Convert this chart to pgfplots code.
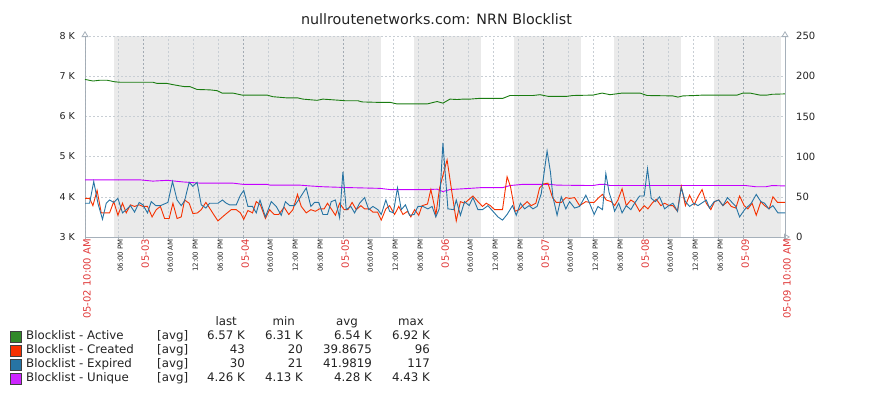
\documentclass[border=0pt]{standalone}
\usepackage{pgfplots}
\pgfplotsset{compat=1.18}
\usepackage{fontspec}
\setmainfont{DejaVu Sans}
\usetikzlibrary{arrows.meta}

\definecolor{activec}{HTML}{1A7C11}
\definecolor{createdc}{HTML}{F63100}
\definecolor{expiredc}{HTML}{2774A4}
\definecolor{uniquec}{HTML}{C400FF}
\definecolor{bandc}{HTML}{EAEAEA}
\definecolor{gridc}{HTML}{C8CED4}
\definecolor{gridd}{HTML}{A3ABB3}
\definecolor{axisc}{HTML}{A6B0BA}
\definecolor{redlab}{HTML}{E03A3A}
\definecolor{txt}{HTML}{222222}

\begin{document}
\begin{tikzpicture}
\path[use as bounding box] (0pt,0pt) rectangle (871pt,397pt);

% background bands (non-working time)
\begin{axis}[
  at={(85pt,160pt)}, anchor=south west, scale only axis,
  width=700pt, height=201pt,
  xmin=0, xmax=168, ymin=3000, ymax=8000,
  hide axis, clip=true]
\addplot[fill=bandc, draw=none] coordinates {(7,3000) (7,8000) (71,8000) (71,3000)} -- cycle;
\addplot[fill=bandc, draw=none] coordinates {(79,3000) (79,8000) (95,8000) (95,3000)} -- cycle;
\addplot[fill=bandc, draw=none] coordinates {(103,3000) (103,8000) (119,8000) (119,3000)} -- cycle;
\addplot[fill=bandc, draw=none] coordinates {(127,3000) (127,8000) (143,8000) (143,3000)} -- cycle;
\addplot[fill=bandc, draw=none] coordinates {(151,3000) (151,8000) (167,8000) (167,3000)} -- cycle;
\end{axis}

% left axis: Active, Unique
\begin{axis}[
  at={(85pt,160pt)}, anchor=south west, scale only axis,
  width=700pt, height=201pt,
  xmin=0, xmax=168, ymin=3000, ymax=8000,
  axis x line=bottom, axis y line=left,
  x axis line style={draw=axisc, line width=0.8pt, shorten >=-5pt, -{Triangle[open,length=6pt,width=7pt]}},
  y axis line style={draw=axisc, line width=0.8pt, shorten >=-5pt, -{Triangle[open,length=6pt,width=7pt]}},
  ytick={3000,4000,5000,6000,7000,8000},
  yticklabels={3 K,4 K,5 K,6 K,7 K,8 K},
  ytick style={draw=none},
  yticklabel style={font=\fontsize{9.5}{11}\selectfont, text=txt, anchor=east, inner sep=0pt, xshift=-8pt},
  xtick={8,20,26,32,44,50,56,68,74,80,92,98,104,116,122,128,140,146,152},
  xticklabels={06:00 PM,06:00 AM,12:00 PM,06:00 PM,06:00 AM,12:00 PM,06:00 PM,06:00 AM,12:00 PM,06:00 PM,06:00 AM,12:00 PM,06:00 PM,06:00 AM,12:00 PM,06:00 PM,06:00 AM,12:00 PM,06:00 PM},
  xtick style={draw=axisc, line width=0.6pt},
  tick align=outside, major tick length=2pt,
  xticklabel style={font=\fontsize{7}{8}\selectfont, text=txt, rotate=90, anchor=east, inner sep=0pt, yshift=-2pt},
  extra x ticks={0,14,38,62,86,110,134,158,168},
  extra x tick labels={05-02 10:00 AM,05-03,05-04,05-05,05-06,05-07,05-08,05-09,05-09 10:00 AM},
  extra x tick style={major grid style={gridd, dash pattern=on 2pt off 2pt, line width=0.6pt},
    xticklabel style={font=\fontsize{10}{12}\selectfont, text=redlab}},
  xmajorgrids, ymajorgrids,
  major grid style={gridc, dash pattern=on 2pt off 2pt, line width=0.6pt},
  clip=false]
\addplot[activec, line width=0.9pt] table {
0 6.92e3
1.9 6.88e3
3.6 6.90e3
5.3 6.90e3
7.2 6.86e3
8.4 6.85e3
16.3 6.85e3
17.3 6.82e3
19.7 6.82e3
21.1 6.79e3
23.3 6.75e3
24.0 6.74e3
25.2 6.74e3
26.9 6.67e3
30.0 6.66e3
31.7 6.64e3
32.9 6.58e3
35.5 6.58e3
37.7 6.53e3
43.7 6.53e3
45.1 6.49e3
48.5 6.46e3
51.1 6.46e3
52.3 6.43e3
55.7 6.40e3
57.1 6.43e3
61.2 6.40e3
62.4 6.39e3
65.5 6.39e3
66.5 6.36e3
70.1 6.35e3
73.2 6.35e3
74.9 6.31e3
82.1 6.31e3
84.5 6.37e3
85.9 6.33e3
87.6 6.43e3
89.3 6.42e3
90.7 6.43e3
92.4 6.43e3
94.8 6.45e3
100.3 6.45e3
102.0 6.52e3
107.5 6.52e3
109.2 6.54e3
111.1 6.50e3
115.7 6.50e3
117.1 6.52e3
121.9 6.53e3
124.1 6.58e3
126.0 6.54e3
128.9 6.58e3
133.2 6.58e3
134.9 6.52e3
141.1 6.51e3
142.3 6.48e3
143.5 6.51e3
146.4 6.52e3
148.3 6.53e3
156.5 6.53e3
157.9 6.58e3
159.6 6.58e3
162.0 6.53e3
163.7 6.53e3
164.9 6.55e3
168 6.56e3
};
\addplot[uniquec, line width=0.9pt] table {
0 4.42e3
13.4 4.42e3
16.3 4.39e3
19.7 4.41e3
23.5 4.37e3
27.6 4.34e3
35.5 4.34e3
37.9 4.31e3
43.7 4.31e3
44.4 4.29e3
51.6 4.29e3
54.0 4.27e3
57.1 4.25e3
62.9 4.23e3
70.8 4.21e3
73.2 4.18e3
82.3 4.18e3
84.5 4.19e3
85.9 4.13e3
87.6 4.18e3
92.4 4.21e3
95.3 4.23e3
100.3 4.23e3
102.0 4.28e3
105.1 4.31e3
111.6 4.31e3
113.3 4.29e3
121.9 4.28e3
123.6 4.31e3
124.8 4.31e3
126.0 4.28e3
158.6 4.28e3
161.0 4.25e3
163.4 4.25e3
164.9 4.28e3
168 4.27e3
};
\end{axis}

% right axis: Created, Expired
\begin{axis}[
  at={(85pt,160pt)}, anchor=south west, scale only axis,
  width=700pt, height=201pt,
  xmin=0, xmax=168, ymin=0, ymax=250,
  axis x line=none, axis y line*=right,
  y axis line style={draw=axisc, line width=0.8pt, shorten >=-5pt, -{Triangle[open,length=6pt,width=7pt]}},
  ytick={0,50,100,150,200,250},
  yticklabels={0,50,100,150,200,250},
  ytick style={draw=none},
  yticklabel style={font=\fontsize{10}{12}\selectfont, text=txt, anchor=west, inner sep=0pt, xshift=11pt},
  clip=true]
\addplot[createdc, line width=0.9pt] table {
0 48
1.1 48
1.9 39
2.9 58
3.9 30
5.0 30
5.9 30
6.9 44
7.9 27
9.0 42
9.9 30
10.9 40
11.9 38
13.0 40
13.9 38
15.0 38
16.1 25
17.1 34
18.1 38
19.1 23
20.2 23
21.1 42
22.1 23
23.1 25
23.9 46
25.0 42
25.9 29
27.0 30
27.9 34
29.0 43
29.9 36
31.0 27
31.9 20
33.0 25
33.9 29
35.1 34
36.3 34
37.3 30
38.1 22
39.1 33
40.2 30
41.1 44
42.1 40
43.3 23
44.3 34
45.4 28
46.5 28
47.8 37
48.9 28
49.9 34
51.0 53
51.9 38
53.1 30
54.2 34
55.3 32
56.3 35
57.4 35
58.2 42
59.1 35
60.1 27
61.1 42
62.2 34
63.1 34
64.1 43
65.1 34
66.2 39
67.1 35
68.2 35
69.1 31
70.2 31
71.1 21
72.2 35
73.1 39
74.3 28
75.3 38
76.3 28
77.4 32
78.2 25
79.1 34
80.1 27
80.9 39
82.2 41
83.0 59
83.8 40
84.2 27
85.1 61
86.9 96
88.1 54
89.1 20
90.1 44
91.1 42
93.1 51
94.3 44
95.4 38
96.3 42
97.3 39
98.3 34
100.2 34
101.3 75
102.1 63
103.2 32
104.2 34
105.1 39
106.1 44
107.1 39
108.2 42
109.1 61
110.1 66
111.1 67
112.2 49
113.1 43
114.3 43
115.4 49
116.3 48
117.5 49
118.7 39
120.2 44
121.1 43
122.2 43
123.1 48
124.2 53
125.1 46
126.3 44
127.1 39
127.9 46
128.9 60
129.9 39
131.0 46
131.9 43
133.1 32
134.2 39
135.1 35
136.1 42
137.1 47
138.2 39
139.1 42
140.2 39
141.1 39
142.2 32
143.1 63
144.1 39
145.1 52
146.2 40
147.1 50
148.1 59
149.1 42
150.2 34
151.1 44
152.1 46
153.1 39
154.2 44
155.1 38
156.2 36
157.1 51
158.2 39
159.1 35
160.1 42
161.1 27
162.2 44
163.1 39
164.2 35
165.1 50
166.2 43
168 43
};
\addplot[expiredc, line width=0.9pt] table {
0 42
1.1 42
2.1 69
3.1 42
4.2 22
5.1 42
5.9 46
6.9 43
7.9 48
9.0 30
9.9 34
10.9 39
11.9 31
13.0 43
13.9 40
15.0 30
15.9 44
17.0 39
18.1 39
19.9 43
21.0 69
22.1 46
23.1 39
23.9 45
25.0 68
25.9 63
26.9 68
27.9 40
29.0 36
29.9 42
31.9 42
33.0 46
33.9 42
34.7 40
36.3 40
37.3 52
38.1 58
39.1 38
40.2 38
41.1 30
42.0 46
43.3 25
44.7 44
45.9 38
47.1 27
48.1 44
49.1 39
50.3 39
51.5 48
53.1 61
54.2 38
55.1 43
56.1 43
57.1 28
58.2 28
59.1 44
60.1 46
61.1 24
61.9 81
62.7 34
63.8 38
64.7 30
65.9 42
67.1 49
68.1 34
69.1 38
70.3 34
71.1 28
72.2 46
73.1 32
74.0 30
75.0 61
75.9 34
76.9 40
77.9 27
79.0 28
79.9 38
81.1 38
82.3 35
83.3 38
84.2 25
85.0 35
85.9 117
87.1 35
88.5 34
89.1 46
90.1 27
91.1 44
92.2 39
93.1 49
94.3 34
95.4 34
96.7 39
97.9 32
99.1 25
100.2 21
101.3 28
102.6 39
103.5 27
104.5 42
105.5 35
106.6 39
107.5 35
108.5 38
109.5 54
110.9 107
111.7 81
112.3 50
113.3 27
114.3 50
115.4 35
116.3 44
117.5 36
118.7 38
120.2 52
121.1 42
122.2 28
123.1 38
124.2 34
125.0 79
125.8 55
126.5 44
127.1 32
128.1 42
128.9 30
129.9 39
131.0 34
131.9 42
133.1 51
134.2 51
135.0 85
135.9 48
136.9 44
137.9 50
139.1 35
140.1 39
141.1 42
142.2 32
143.1 61
144.1 44
145.1 38
146.2 42
147.1 39
149.1 46
149.9 36
151.0 44
152.1 46
153.1 39
154.2 49
155.1 44
156.2 38
157.1 25
158.3 34
159.9 42
161.1 53
162.2 44
163.1 42
164.1 35
165.1 39
166.3 30
168 30
};
\end{axis}

% title
\node[font=\fontsize{14.3}{17}\selectfont, text=txt] at (436.5pt,378pt) {nullroutenetworks.com: NRN Blocklist};

% legend table
\begin{scope}[x=1pt, y=1pt, every node/.style={font=\fontsize{11.8}{14}\selectfont, text=txt, inner sep=0pt}]
\node[anchor=mid east] at (237,74.5) {last};
\node[anchor=mid east] at (295,74.5) {min};
\node[anchor=mid east] at (358,74.5) {avg};
\node[anchor=mid east] at (424,74.5) {max};

\filldraw[fill=activec!90!white, draw=black!75, line width=0.6pt] (10.5,55) rectangle (21.5,66);
\node[anchor=mid west] at (26,60.5) {Blocklist - Active};
\node[anchor=mid west] at (157,60.5) {[avg]};
\node[anchor=mid east] at (245,60.5) {6.57 K};
\node[anchor=mid east] at (303,60.5) {6.31 K};
\node[anchor=mid east] at (372,60.5) {6.54 K};
\node[anchor=mid east] at (430,60.5) {6.92 K};

\filldraw[fill=createdc, draw=black!75, line width=0.6pt] (10.5,41) rectangle (21.5,52);
\node[anchor=mid west] at (26,46.5) {Blocklist - Created};
\node[anchor=mid west] at (157,46.5) {[avg]};
\node[anchor=mid east] at (245,46.5) {43};
\node[anchor=mid east] at (303,46.5) {20};
\node[anchor=mid east] at (372,46.5) {39.8675};
\node[anchor=mid east] at (430,46.5) {96};

\filldraw[fill=expiredc, draw=black!75, line width=0.6pt] (10.5,27) rectangle (21.5,38);
\node[anchor=mid west] at (26,32.5) {Blocklist - Expired};
\node[anchor=mid west] at (157,32.5) {[avg]};
\node[anchor=mid east] at (245,32.5) {30};
\node[anchor=mid east] at (303,32.5) {21};
\node[anchor=mid east] at (372,32.5) {41.9819};
\node[anchor=mid east] at (430,32.5) {117};

\filldraw[fill=uniquec!85!white, draw=black!75, line width=0.6pt] (10.5,13) rectangle (21.5,24);
\node[anchor=mid west] at (26,18.5) {Blocklist - Unique};
\node[anchor=mid west] at (157,18.5) {[avg]};
\node[anchor=mid east] at (245,18.5) {4.26 K};
\node[anchor=mid east] at (303,18.5) {4.13 K};
\node[anchor=mid east] at (372,18.5) {4.28 K};
\node[anchor=mid east] at (430,18.5) {4.43 K};
\end{scope}
\end{tikzpicture}
\end{document}
